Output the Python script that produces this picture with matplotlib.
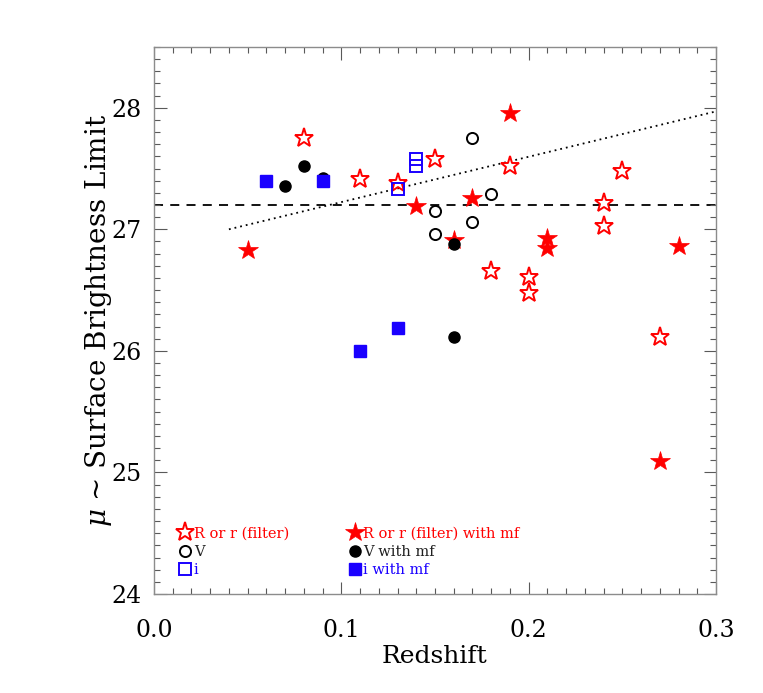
# Surface brightness limit vs redshift
import numpy as np
import matplotlib
matplotlib.use('Agg')
import matplotlib.pyplot as plt
from matplotlib.ticker import MultipleLocator

# R or r filter, open stars
r_z = [0.08, 0.11, 0.13, 0.15, 0.19, 0.18, 0.20, 0.20, 0.24, 0.24, 0.25, 0.27]
r_mu = [27.75, 27.41, 27.38, 27.58, 27.52, 26.66, 26.61, 26.48, 27.22, 27.03, 27.48, 26.11]
# R or r with mf, filled stars
rmf_z = [0.05, 0.14, 0.16, 0.17, 0.19, 0.21, 0.21, 0.28, 0.27]
rmf_mu = [26.83, 27.19, 26.91, 27.26, 27.96, 26.93, 26.85, 26.86, 25.09]
# V, open circles
v_z = [0.15, 0.15, 0.17, 0.17, 0.18]
v_mu = [27.15, 26.96, 27.75, 27.06, 27.29]
# V with mf, filled circles
vmf_z = [0.07, 0.08, 0.09, 0.16, 0.16]
vmf_mu = [27.36, 27.52, 27.42, 26.88, 26.11]
# i, open squares
i_z = [0.13, 0.14, 0.14]
i_mu = [27.33, 27.575, 27.52]
# i with mf, filled squares
imf_z = [0.06, 0.09, 0.11, 0.13]
imf_mu = [27.40, 27.40, 26.00, 26.19]

limit = 27.2
fit_z = [0.04, 0.30]
fit_mu = [27.0, 27.97]

red = '#ff0000'
blue = '#1a00ff'

plt.rcParams['font.family'] = ['DejaVu Serif']
plt.rcParams['mathtext.fontset'] = 'dejavuserif'

fig = plt.figure(figsize=(7.63, 6.93), dpi=100)
ax = fig.add_axes([0.2018, 0.1429, 0.7366, 0.7893])

ax.axhline(limit, color='k', ls=(0, (5, 4)), lw=1.3, zorder=1)
ax.plot(fit_z, fit_mu, color='k', ls=(0, (1, 2.2)), lw=1.3, zorder=1)

h1, = ax.plot(r_z, r_mu, ls='none', marker='*', ms=14, mfc='white', mec=red, mew=1.4, label='R or r (filter)')
h4, = ax.plot(rmf_z, rmf_mu, ls='none', marker='*', ms=15, mfc=red, mec=red, mew=0.5, label='R or r (filter) with mf')
h2, = ax.plot(v_z, v_mu, ls='none', marker='o', ms=8, mfc='none', mec='k', mew=1.4, label='V')
h5, = ax.plot(vmf_z, vmf_mu, ls='none', marker='o', ms=8, mfc='k', mec='k', label='V with mf')
h3, = ax.plot(i_z, i_mu, ls='none', marker='s', ms=8, mfc='none', mec=blue, mew=1.4, label='i')
h6, = ax.plot(imf_z, imf_mu, ls='none', marker='s', ms=8, mfc=blue, mec=blue, label='i with mf')

leg = ax.legend([h1, h2, h3, h4, h5, h6],
                ['R or r (filter)', 'V', 'i', 'R or r (filter) with mf', 'V with mf', 'i with mf'],
                ncol=2, loc='lower left', bbox_to_anchor=(0.024, 0.012), frameon=False,
                prop={'family': 'DejaVu Serif', 'size': 10.5}, handlelength=1.0,
                handletextpad=0.1, columnspacing=4.0, labelspacing=0.3, borderpad=0.2)
for t, c in zip(leg.get_texts(), [red, '#202020', blue, red, '#202020', blue]):
    t.set_color(c)

ax.set_xlim(0.0, 0.3)
ax.set_ylim(24, 28.5)
ax.xaxis.set_major_locator(MultipleLocator(0.1))
ax.xaxis.set_minor_locator(MultipleLocator(0.01))
ax.yaxis.set_major_locator(MultipleLocator(1))
ax.yaxis.set_minor_locator(MultipleLocator(0.1))
ax.set_xticks([0.0, 0.1, 0.2, 0.3], ['0.0', '0.1', '0.2', '0.3'])
ax.set_yticks([24, 25, 26, 27, 28])
ax.tick_params(which='both', direction='in', top=True, right=True, color='0.35', labelsize=17)
ax.tick_params(axis='x', pad=18)
ax.tick_params(axis='y', pad=9)
ax.tick_params(which='major', length=9, width=0.8)
ax.tick_params(which='minor', length=4.5, width=0.8)
for s in ax.spines.values():
    s.set_color('0.55')
    s.set_linewidth(1.0)

ax.set_xlabel('Redshift', fontsize=18, labelpad=2)
ax.set_ylabel(r'$\mu$ ~ Surface Brightness Limit', fontsize=20, labelpad=-2)

fig.savefig('out.png', dpi=100)
